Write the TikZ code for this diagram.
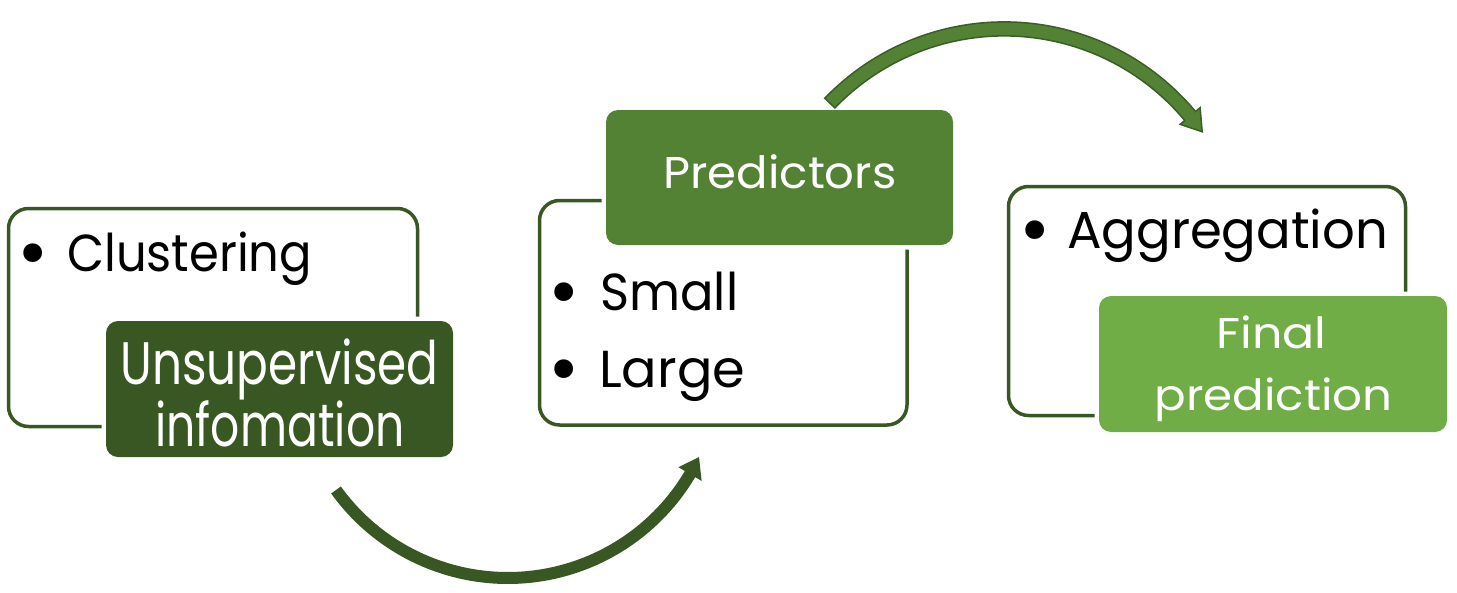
\documentclass[tikz,border=0pt]{standalone}
\usepackage{fontspec}
\setmainfont{Poppins}
\usetikzlibrary{calc}
\definecolor{gDark}{HTML}{385723}
\definecolor{gMid}{HTML}{548235}
\definecolor{gLight}{HTML}{70AD47}
\definecolor{gEdge}{HTML}{3B5E27}
% set a word to a given width, keeping its natural height
\newcommand{\fitw}[2]{\resizebox{#1pt}{\height}{#2}}
\begin{document}
\begin{tikzpicture}[x=1pt,y=-1pt,
  frame/.style={draw=gDark, line width=3.5pt, rounded corners=20pt, fill=white,
    anchor=north west, inner sep=0pt, outer sep=0pt},
  tag/.style={preaction={draw=white, line width=9pt}, rounded corners=12pt,
    anchor=north west, inner sep=0pt, outer sep=0pt},
  body/.style={font=\fontsize{52}{60}\selectfont, text=black, inner sep=0pt, anchor=base west},
  dot/.style={font=\fontsize{76}{90}\selectfont, text=black, inner sep=0pt, anchor=base},
  tagtext/.style={text=white, inner sep=0pt, anchor=base},
]
\useasboundingbox (0,0) rectangle (1457,592);

% outlined boxes
\node[frame, minimum width=409, minimum height=218] (box1) at (8.5,208.5) {};
\node[frame, minimum width=367.5, minimum height=224.5] (box2) at (539.5,200.5) {};
\node[frame, minimum width=397, minimum height=229] (box3) at (1008.5,186.5) {};

% coloured title tags
\node[tag, fill=gDark, minimum width=347, minimum height=136] (tag1) at (106,321) {};
\node[tag, fill=gMid, minimum width=347, minimum height=135] (tag2) at (606,110) {};
\node[tag, fill=gLight, minimum width=348, minimum height=136] (tag3) at (1099,296) {};

% bullet lists
\node[dot] (d1) at (33.5,278) {•};
\node[body] (t1) at (67,271) {\fitw{245}{Clustering}};
\node[dot] (d2) at (564,317) {•};
\node[body] (t2) at (600,310) {\fitw{138}{Small}};
\node[dot] (d3) at (564,394) {•};
\node[body] (t3) at (599,387) {\fitw{146}{Large}};
\node[dot] (d4) at (1035,255) {•};
\node[body] (t4) at (1067,248) {\fitw{321}{Aggregation}};

% tag texts
\node[tagtext, font=\fontsize{60}{70}\selectfont] (u1) at (279.5,384) {\fitw{318}{Unsupervised}};
\node[tagtext, font=\fontsize{60}{70}\selectfont] (u2) at (280,446) {\fitw{249}{infomation}};
\node[tagtext, font=\fontsize{44.5}{50}\selectfont] (p1) at (780,188) {\fitw{233}{Predictors}};
\node[tagtext, font=\fontsize{43}{50}\selectfont] (f1) at (1271.5,348) {\fitw{110}{Final}};
\node[tagtext, font=\fontsize{43}{50}\selectfont] (f2) at (1273.5,410) {\fitw{238}{prediction}};

% lower curved arrow
\coordinate (arcL) at (507.8,366.3);
\fill[gDark] ($(arcL)+(144.25:217.7)$) arc[start angle=144.25, end angle=30.6, radius=217.7]
  -- ($(arcL)+(30.6:225.2)$) -- ($(arcL)+(25.4:211.7)$) -- ($(arcL)+(30.6:198.2)$)
  -- ($(arcL)+(30.6:205.7)$) arc[start angle=30.6, end angle=144.25, radius=205.7] -- cycle;

% upper curved arrow
\coordinate (arcU) at (1004.2,270.9);
\filldraw[fill=gMid, draw=gEdge, line width=1.5pt, line join=miter]
  ($(arcU)+(-136.1:249)$) arc[start angle=-136.1, end angle=-39.8, radius=249]
  -- ($(arcU)+(-39.8:255)$) -- ($(arcU)+(-35.1:242)$) -- ($(arcU)+(-39.8:229)$)
  -- ($(arcU)+(-39.8:235)$) arc[start angle=-39.8, end angle=-136.1, radius=235] -- cycle;
\end{tikzpicture}
\end{document}
